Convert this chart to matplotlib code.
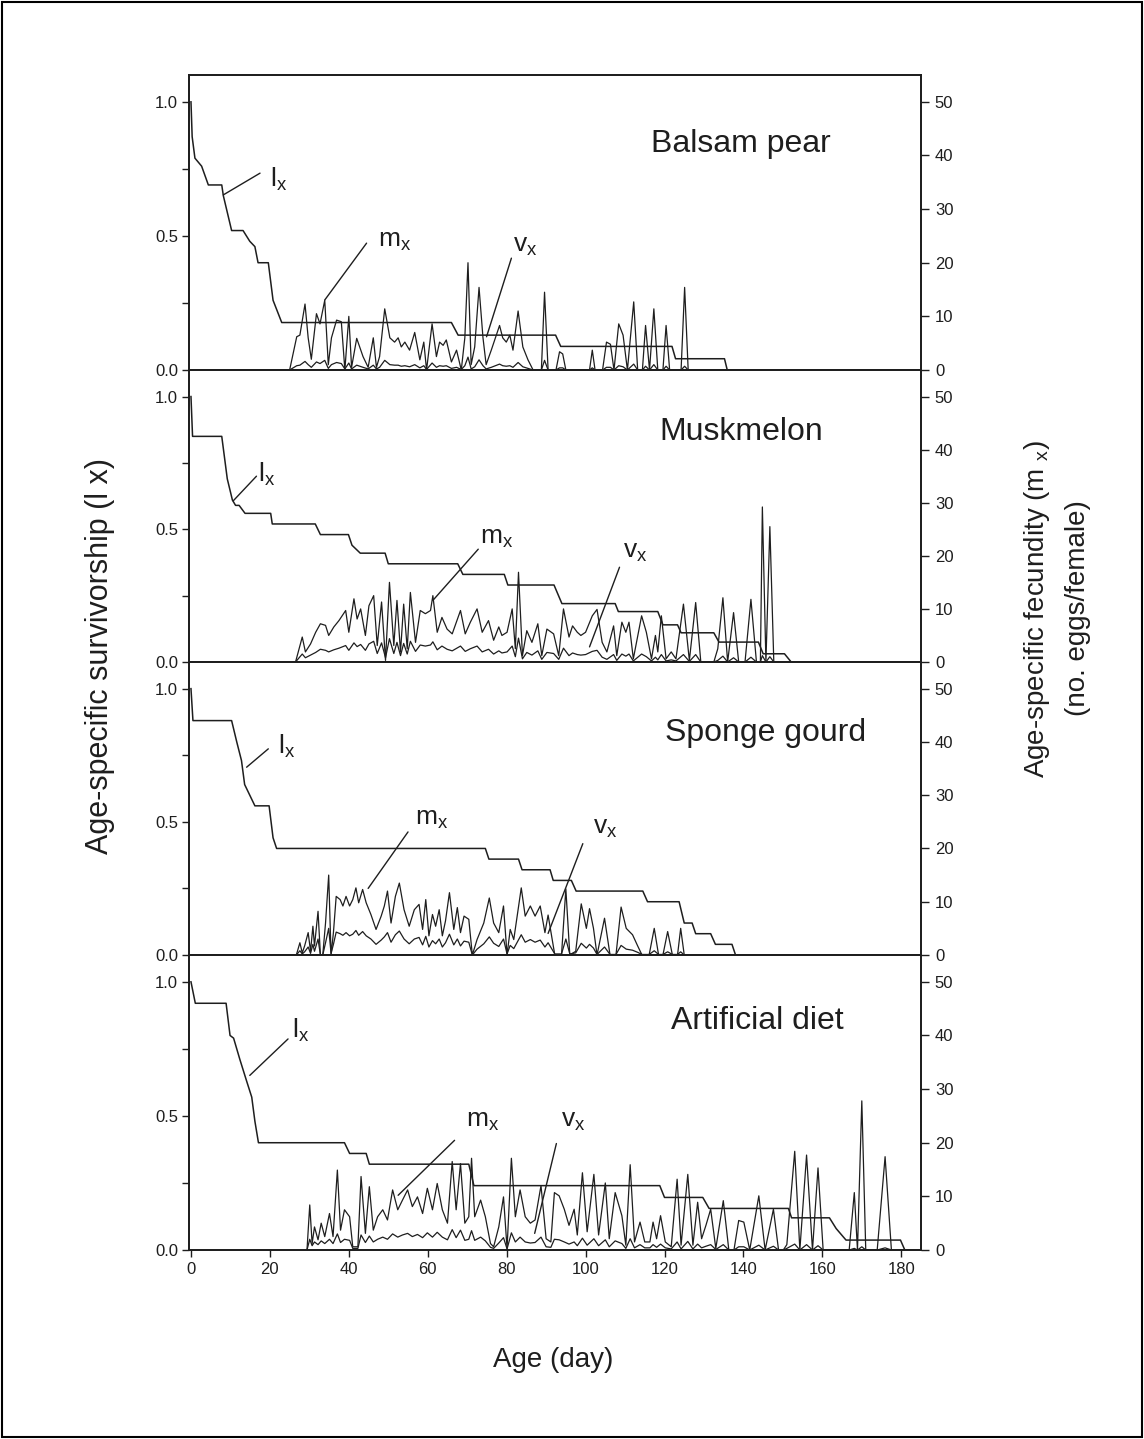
import matplotlib.pyplot as plt
from matplotlib.patches import Rectangle

plt.rcParams['font.family'] = ['Liberation Sans', 'DejaVu Sans']
plt.rcParams['mathtext.fontset'] = 'custom'
plt.rcParams['mathtext.rm'] = 'Liberation Sans'
plt.rcParams['mathtext.it'] = 'Liberation Sans'

hosts = ['Balsam pear', 'Muskmelon', 'Sponge gourd', 'Artificial diet']

# ---------- Balsam pear ----------
bp_lx_age = [0, 0.3, 1.0, 2.7, 4.4, 7.8, 8.2, 10.3, 13.2, 14.9, 16.2, 17.0, 19.6, 20.8, 23.0,
             66.0, 67.7, 92.4, 93.7, 121.9, 122.8, 135.2, 135.9, 185]
bp_lx = [1.0, 0.87, 0.79, 0.76, 0.69, 0.69, 0.65, 0.52, 0.52, 0.48, 0.46, 0.40, 0.40, 0.26, 0.177,
         0.177, 0.13, 0.13, 0.088, 0.088, 0.042, 0.042, 0, 0]
bp_age = [25, 26.8, 27.6, 28.9, 29.7, 30.5, 31.8, 32.7, 33.9, 34.8,
          35.6, 36.9, 38.1, 39, 40, 40.7, 42, 43.6, 44.9, 46.2,
          47, 47.8, 49.1, 50.4, 51.6, 52.5, 53.3, 54.2, 55.4, 56.7,
          58, 59, 59.7, 61.1, 62.2, 63, 63.9, 64.7, 66, 67.3,
          68.5, 69.4, 70.2, 71, 71.9, 73, 74, 74.8, 76.1, 78.2,
          79, 79.9, 80.8, 81.6, 82.9, 84.1, 85.4, 86.7, 88.8, 89.6,
          90.5, 92.5, 93.4, 94.2, 95, 101, 101.7, 102.4, 104.3, 105.3,
          106.3, 107.2, 108.4, 109.5, 110.6, 112.2, 113.2, 114.4, 115.2, 116.2,
          117.3, 118.3, 119.6, 120.4, 121.3, 124.2, 125.1, 126]
bp_mx = [0, 6.2, 6.5, 12.3, 6, 2, 10.5, 8.6, 13, 1,
         6, 9.3, 9, 0, 10, 0.5, 5.9, 2.5, 0.5, 6,
         0.5, 2.5, 11.4, 6, 5.2, 6, 4.3, 5.2, 3.7, 7,
         1.9, 5.2, 0, 8.6, 2.5, 5.2, 4.6, 5.6, 1.5, 3.7,
         0, 6, 20, 1, 4.3, 15.4, 6, 1, 3.7, 8.3,
         6, 5.2, 6.5, 3.7, 11, 4.3, 1.9, 0, 0, 14.5,
         0, 0, 3.4, 3, 0, 0, 3.7, 0, 0, 5.2,
         4.8, 0, 8.6, 6.5, 0, 12.7, 0, 0, 8.3, 0,
         11.4, 0, 0, 8.3, 0, 0, 15.4, 0]
bp_vx = [0, 0.8, 0.9, 1.6, 1.0, 0.5, 1.5, 1.2, 1.8, 0.3,
         1.0, 1.4, 1.2, 0.2, 1.3, 0.2, 0.9, 0.5, 0.2, 0.9,
         0.2, 0.5, 1.8, 1.0, 0.9, 0.9, 0.7, 0.8, 0.6, 1.0,
         0.4, 0.8, 0.1, 1.3, 0.5, 0.8, 0.7, 0.8, 0.3, 0.5,
         0.1, 0.8, 2.4, 0.2, 0.6, 1.9, 0.8, 0.2, 0.5, 1.1,
         0.8, 0.7, 0.8, 0.5, 1.4, 0.6, 0.3, 0, 0, 1.8,
         0, 0, 0.4, 0.4, 0, 0, 0.4, 0, 0, 0.5,
         0.5, 0, 0.8, 0.6, 0, 1.1, 0, 0, 0.7, 0,
         1.0, 0, 0, 0.7, 0, 0, 0.7, 0]

# ---------- Muskmelon ----------
mm_lx_age = [0, 0.4, 7.8, 9.2, 10.5, 11.3, 12.2, 13.7, 20.2, 20.6,
             31.5, 32.8, 39.9, 40.8, 42.9, 49.2, 50.0, 67.6, 68.9, 79.4,
             80.3, 92.0, 94.0, 107.5, 108.3, 118.3, 119.6, 123.3, 124.2, 132.5,
             133.8, 143.8, 145.0, 150.4, 152.1, 185]
mm_lx = [1.0, 0.85, 0.85, 0.69, 0.61, 0.59, 0.59, 0.56, 0.56, 0.52,
         0.52, 0.48, 0.48, 0.44, 0.41, 0.41, 0.37, 0.37, 0.33, 0.33,
         0.29, 0.29, 0.22, 0.22, 0.19, 0.19, 0.14, 0.14, 0.11, 0.11,
         0.075, 0.075, 0.031, 0.031, 0, 0]
mm_age = [26.5, 28.2, 29, 30.3, 31.6, 32.8, 34.1, 34.9, 36.2, 37.5,
          39.2, 40, 41.3, 42.1, 43, 44.2, 45.1, 46.3, 47.2, 48.3,
          49.3, 50.3, 51.4, 52.2, 53.1, 53.9, 54.8, 55.6, 56.9, 58.1,
          59.4, 60.7, 61.3, 62.4, 63.6, 64.9, 66.2, 68.3, 69.5, 70.8,
          72.5, 73.8, 75.4, 76.7, 78, 78.8, 80.1, 81.4, 82.2, 83,
          84, 85.1, 86.4, 87.9, 88.9, 90.2, 91.9, 93.2, 94.4, 95.8,
          96.7, 97.9, 98.8, 100, 101.7, 102.9, 104.2, 105.4, 107.1, 107.9,
          109.2, 110.2, 111, 112.1, 114.2, 115.4, 116.7, 117.7, 118.3, 119.2,
          120.4, 121.7, 122.9, 124.8, 126.3, 127.9, 129.2, 132.5, 133.5, 134.8,
          136, 137.5, 138.8, 140.4, 141.9, 143.3, 144.3, 144.8, 145.7, 146.7,
          147.7]
mm_mx = [0, 4.7, 1.9, 3.4, 5.6, 7.2, 6.9, 5, 6.6, 7.8,
         9.7, 5.6, 11.9, 8.1, 10, 5, 10.6, 12.5, 3.1, 11.3,
         0.3, 15, 3.1, 11.6, 1.9, 10.9, 2.5, 13.1, 3.7, 9.7,
         9.1, 9.7, 12.5, 5.6, 8.4, 6.2, 5.3, 9.7, 5.3, 7.5,
         10, 5.6, 7.8, 4.1, 6.6, 5, 5.6, 10, 2.5, 16.9,
         1.2, 5.9, 3.7, 7.2, 1.2, 6.2, 5.3, 1.2, 10, 4.7,
         6.8, 5.6, 5, 5.6, 8.7, 9.9, 3.7, 1.9, 6.8, 1.2,
         7.5, 5.6, 7.5, 0.6, 8.7, 5.6, 0.6, 5, 1.9, 8.7,
         0.6, 1.9, 0.6, 10.9, 0.3, 11.2, 0, 0, 2.5, 12.1,
         0, 9.3, 0, 0, 11.8, 0, 0, 29.2, 0, 25.5,
         0]
mm_vx = [0, 1.5, 0.8, 1.3, 1.8, 2.4, 2.2, 1.9, 2.3, 2.6,
         3.1, 2.2, 3.6, 2.9, 3.3, 2.2, 3.4, 3.9, 1.6, 3.6,
         0.8, 4.4, 1.6, 3.7, 1.2, 3.5, 1.5, 3.9, 2.0, 3.2,
         3.0, 3.2, 3.8, 2.3, 3.0, 2.4, 2.1, 3.0, 2.0, 2.5,
         3.0, 1.9, 2.4, 1.5, 2.1, 1.7, 1.9, 3.0, 1.0, 4.5,
         0.6, 1.8, 1.3, 2.1, 0.5, 1.8, 1.6, 0.5, 2.6, 1.2,
         1.7, 1.4, 1.3, 1.4, 2.0, 2.2, 0.9, 0.5, 1.4, 0.3,
         1.5, 1.1, 1.5, 0.2, 1.5, 1.0, 0.2, 0.9, 0.4, 1.4,
         0.2, 0.4, 0.2, 1.4, 0.1, 1.4, 0, 0, 0.3, 1.1,
         0, 0.8, 0, 0, 0.9, 0, 0, 1.2, 0, 1.0,
         0]

# ---------- Sponge gourd ----------
sg_lx_age = [0, 0.5, 10.3, 11.6, 12.8, 13.6, 14.9, 16.2, 19.8, 20.8,
             21.7, 74.6, 75.5, 83.0, 83.9, 91.0, 91.8, 96.4, 97.6, 114.5,
             115.7, 123.7, 125.0, 127.0, 127.9, 131.7, 132.9, 137.1, 138.0, 185]
sg_lx = [1.0, 0.88, 0.88, 0.80, 0.73, 0.64, 0.60, 0.56, 0.56, 0.44,
         0.40, 0.40, 0.36, 0.36, 0.32, 0.32, 0.28, 0.28, 0.24, 0.24,
         0.20, 0.20, 0.12, 0.12, 0.08, 0.08, 0.04, 0.04, 0, 0]
sg_age = [26.7, 27.6, 28.2, 28.8, 29.7, 30.3, 30.9, 31.3, 32.2, 32.8,
          33.4, 34.1, 34.9, 35.5, 36.1, 36.8, 37.8, 38.5, 39.3, 40.2,
          41, 41.8, 42.5, 43.5, 44.4, 45.6, 46.9, 48.2, 49, 49.8,
          50.7, 51.8, 52.8, 54, 55.3, 56.6, 57.8, 58.7, 59.5, 60.3,
          61.2, 62, 62.9, 63.7, 64.5, 65.5, 66.6, 67.5, 68.3, 69.2,
          70.4, 71.3, 72.5, 74.2, 75.6, 76.7, 78, 79.2, 80.1, 80.9,
          81.8, 83.7, 84.7, 86, 87.2, 88.5, 89.7, 90.5, 92.2, 93.9,
          95, 96, 97.5, 98.9, 100.2, 101, 102, 102.9, 104.8, 106.2,
          107.7, 109, 110.3, 111.9, 113.2, 114.3, 116.1, 117.4, 118.5, 119.6,
          120.8, 122, 123.3, 124.1, 125]
sg_mx = [0, 2.3, 0.4, 1.7, 4.2, 0.7, 5.4, 1.7, 8.2, 0,
         0, 6, 15, 0, 4.2, 11, 10.4, 9.2, 11, 9.2,
         10.4, 12.6, 9.8, 12.3, 9.8, 7.6, 4.8, 7.3, 9.2, 12,
         6, 11, 13.5, 8.5, 5.4, 8.5, 9.5, 4.8, 10.4, 3.6,
         7.6, 5.4, 8.5, 3.6, 6.4, 11.7, 4.8, 8.9, 4.2, 7.3,
         6.7, 0, 2.9, 6, 10.7, 6, 4.2, 9.2, 0, 4.8,
         2.9, 12.6, 7.3, 9.2, 7.3, 9.2, 4.2, 7.5, 0, 0,
         12.4, 0, 0.7, 9.6, 5, 8.7, 5, 0, 6.9, 0,
         0, 9, 5, 3.8, 1.7, 0, 0, 5, 0, 0,
         4.4, 0, 0, 5, 0]
sg_vx = [0, 0.8, 0.2, 0.6, 1.5, 0.3, 2.0, 0.7, 3.0, 0,
         0, 2.3, 5.0, 0.3, 2.0, 4.3, 4.0, 3.7, 4.2, 3.6,
         3.9, 4.6, 3.7, 4.4, 3.6, 3.0, 2.0, 2.8, 3.4, 4.2,
         2.4, 3.8, 4.5, 3.0, 2.1, 3.0, 3.3, 1.9, 3.5, 1.5,
         2.7, 2.1, 3.0, 1.5, 2.3, 3.9, 1.9, 3.0, 1.7, 2.6,
         2.4, 0, 1.1, 2.1, 3.4, 2.2, 1.6, 3.0, 0.2, 1.8,
         1.2, 3.8, 2.4, 2.9, 2.4, 2.8, 1.5, 2.3, 0.2, 0.2,
         3.0, 0.2, 0.4, 2.2, 1.3, 2.0, 1.3, 0.1, 1.5, 0.1,
         0.1, 1.8, 1.1, 0.9, 0.5, 0.1, 0.1, 0.8, 0.1, 0.1,
         0.6, 0.1, 0.1, 0.6, 0]

# ---------- Artificial diet ----------
ad_lx_age = [0, 1.1, 8.9, 9.9, 10.8, 12.4, 14.1, 15.4, 16.2, 17.1,
             38.9, 40.2, 44.4, 45.2, 70.4, 71.7, 118.8, 120.0, 129.7, 131.3,
             151.4, 152.2, 161.8, 163.5, 166.0, 179.8, 180.9, 185]
ad_lx = [1.0, 0.92, 0.92, 0.80, 0.79, 0.71, 0.63, 0.57, 0.48, 0.40,
         0.40, 0.36, 0.36, 0.32, 0.32, 0.24, 0.24, 0.196, 0.196, 0.155,
         0.155, 0.12, 0.12, 0.08, 0.037, 0.037, 0, 0]
ad_age = [29.4, 30.1, 30.7, 31.3, 32.2, 33, 33.9, 35.1, 36, 37.1,
          37.9, 38.9, 40.2, 41, 42.3, 43.1, 44.2, 45.2, 46.2, 47.3,
          48.6, 49.8, 51.1, 52.4, 53.6, 54.9, 56.1, 57.4, 58.7, 59.9,
          61.2, 62.4, 63.7, 65, 66.2, 67.2, 68.3, 69.4, 70.4, 71.1,
          71.9, 73.4, 74.6, 75.9, 76.7, 78, 79.2, 80.1, 81.2, 82.2,
          83.4, 84.7, 86, 87.2, 88.7, 90, 91.2, 92.1, 93.3, 94.6,
          95.8, 97.1, 97.9, 99.2, 100.4, 102.1, 103.3, 105, 106, 107.5,
          109.2, 110.2, 111.3, 112.4, 113.8, 115, 116.3, 117.1, 118, 119,
          120.2, 121.7, 123.2, 124.2, 125.9, 127.2, 128.4, 129.4, 130.5, 131.7,
          133, 134.9, 136.3, 137.6, 138.8, 140.1, 141.6, 143.9, 145.5, 147.6,
          148.9, 150.1, 151, 153, 154.3, 156, 157.5, 158.9, 160.2, 166.8,
          168.1, 168.9, 170, 171, 173.9, 175.9, 177.5]
ad_mx = [0, 8.4, 1.2, 4.3, 1.9, 5, 2.5, 6.8, 2.5, 14.9,
         3.7, 7.5, 6.2, 0.6, 0.6, 13.7, 3.1, 11.8, 3.7, 6.2,
         7.5, 5.6, 11.2, 7.5, 9.3, 11.2, 8.1, 9.9, 6.8, 11.5,
         7.5, 12.4, 7.5, 5, 16.5, 7.5, 16.1, 5, 6.2, 17.1,
         6.2, 9.3, 6.2, 1.2, 0.6, 4.3, 9.9, 0.3, 17.1, 6.2,
         11.2, 6.2, 5, 5.6, 12, 2.1, 1.5, 10.7, 10.1, 7.6,
         4.6, 7.6, 2.8, 14.4, 3.4, 14.1, 2.8, 12.5, 2.1, 10.7,
         6.4, 0.9, 15.9, 1.5, 5.2, 1.5, 1.5, 5.2, 2.1, 6.4,
         1.5, 0.6, 13.2, 0.9, 14.1, 0.9, 8.9, 2.1, 4.6, 7.6,
         0.3, 9.2, 0, 0, 5.5, 5.2, 0, 10.1, 0, 7.6,
         0, 0, 1, 18.4, 0, 17.7, 0, 15.3, 0, 0,
         10.7, 0, 27.8, 0, 0, 17.4, 0]
ad_vx = [0, 2.0, 0.8, 1.5, 1.0, 1.7, 1.2, 2.0, 1.2, 3.0,
         1.4, 2.0, 1.8, 0.3, 0.3, 2.8, 1.4, 2.6, 1.5, 2.0,
         2.4, 2.0, 3.0, 2.4, 2.8, 3.1, 2.5, 2.9, 2.3, 3.2,
         2.4, 3.3, 2.4, 1.9, 3.8, 2.3, 3.7, 1.8, 2.0, 3.6,
         1.8, 2.4, 1.7, 0.5, 0.3, 1.3, 2.3, 0.2, 3.2, 1.5,
         2.4, 1.5, 1.3, 1.4, 2.4, 0.6, 0.5, 2.0, 1.9, 1.5,
         1.1, 1.5, 0.8, 2.2, 0.9, 2.1, 0.8, 1.9, 0.6, 1.7,
         1.2, 0.3, 2.1, 0.4, 1.0, 0.4, 0.4, 1.0, 0.5, 1.1,
         0.4, 0.2, 1.5, 0.2, 1.6, 0.2, 1.1, 0.4, 0.7, 1.0,
         0.1, 1.0, 0, 0, 0.6, 0.6, 0, 0.9, 0, 0.7,
         0, 0, 0.3, 1.1, 0, 1.0, 0, 0.8, 0, 0,
         0.3, 0, 0.6, 0, 0, 0.4, 0]

lx_ages = [bp_lx_age, mm_lx_age, sg_lx_age, ad_lx_age]
lx_vals = [bp_lx, mm_lx, sg_lx, ad_lx]
ages = [bp_age, mm_age, sg_age, ad_age]
mx_vals = [bp_mx, mm_mx, sg_mx, ad_mx]
vx_vals = [bp_vx, mm_vx, sg_vx, ad_vx]

# title position (age, lx) and leader labels: text pos, line start, line end
title_pos = [(139.4, 0.814), (139.4, 0.838), (145.7, 0.805), (143.4, 0.824)]
leaders = [
    [('l', (20.0, 0.684), (17.5, 0.734), (8.2, 0.653)),
     ('m', (47.4, 0.46), (44.5, 0.473), (33.9, 0.261)),
     ('v', (81.6, 0.441), (81.2, 0.417), (74.9, 0.124))],
    [('l', (17.0, 0.68), (16.6, 0.70), (10.7, 0.607)),
     ('m', (73.2, 0.444), (72.8, 0.425), (61.3, 0.232)),
     ('v', (109.4, 0.394), (108.6, 0.357), (101.0, 0.057))],
    [('l', (22.1, 0.755), (19.6, 0.774), (14.1, 0.705)),
     ('m', (56.7, 0.487), (55.0, 0.462), (44.9, 0.25)),
     ('v', (101.9, 0.456), (99.3, 0.418), (90.5, 0.081))],
    [('l', (25.5, 0.793), (24.6, 0.787), (14.9, 0.651)),
     ('m', (69.8, 0.458), (66.8, 0.409), (52.5, 0.204)),
     ('v', (93.8, 0.458), (92.6, 0.397), (87.1, 0.062))],
]

W, H = 1144, 1439
fig = plt.figure(figsize=(W / 100, H / 100), dpi=100)
fig.patches.append(Rectangle((2 / W, 2 / H), 1 - 4 / W, 1 - 4 / H, transform=fig.transFigure,
                             fill=False, edgecolor='black', linewidth=1.5))

ink = '#1e1e1e'
edges = [75, 370, 662, 955, 1250]
left_px, right_px = 189, 921

for i in range(4):
    top, bot = edges[i], edges[i + 1]
    ax = fig.add_axes([left_px / W, 1 - bot / H, (right_px - left_px) / W, (bot - top) / H])
    ax2 = ax.twinx()

    ax.plot(lx_ages[i], lx_vals[i], color=ink, lw=1.1)
    ax2.plot(ages[i], mx_vals[i], color=ink, lw=0.9)
    ax2.plot(ages[i], vx_vals[i], color=ink, lw=0.9)

    ax.set_xlim(-0.5, 185)
    ax.set_ylim(0, 1.1)
    ax2.set_ylim(0, 55)
    ax.set_xticks(range(0, 181, 20))
    ax.set_yticks([0, 0.5, 1.0])
    ax.set_yticklabels(['0.0', '0.5', '1.0'])
    ax.set_yticks([0.25, 0.75], minor=True)
    ax2.set_yticks(range(0, 51, 10))

    ax.tick_params(axis='x', direction='out', length=5, width=1, labelsize=12,
                   labelbottom=(i == 3), colors=ink)
    ax.tick_params(axis='y', which='both', direction='out', length=5, width=1,
                   labelsize=12, pad=3, colors=ink)
    ax2.tick_params(axis='y', direction='out', length=6, width=1, labelsize=12, pad=4, colors=ink)
    for a in (ax, ax2):
        for s in a.spines.values():
            s.set_linewidth(1.3)
            s.set_color(ink)

    tx, ty = title_pos[i]
    ax.text(tx, ty, hosts[i], fontsize=23, ha='center', va='baseline', color=ink)

    for name, txy, p0, p1 in leaders[i]:
        ax.text(txy[0], txy[1], r'$\mathregular{%s_x}$' % name, fontsize=19,
                ha='left', va='baseline', color=ink)
        ax.annotate('', xy=p1, xytext=p0,
                    arrowprops=dict(arrowstyle='-', lw=1.0, color=ink, shrinkA=0, shrinkB=0))

fig.text(100 / W, 1 - 656 / H, r'Age-specific survivorship (l x)', rotation=90,
         ha='center', va='center', fontsize=22, color=ink)
fig.text(1037 / W, 1 - 609 / H, r'Age-specific fecundity (m $\mathregular{_x}$)', rotation=90,
         ha='center', va='center', fontsize=20, color=ink)
fig.text(1078 / W, 1 - 608 / H, '(no. eggs/female)', rotation=90,
         ha='center', va='center', fontsize=20, color=ink)
fig.text(553 / W, 1 - 1360 / H, 'Age (day)', ha='center', va='center', fontsize=20, color=ink)

fig.savefig('out.png', dpi=100)
